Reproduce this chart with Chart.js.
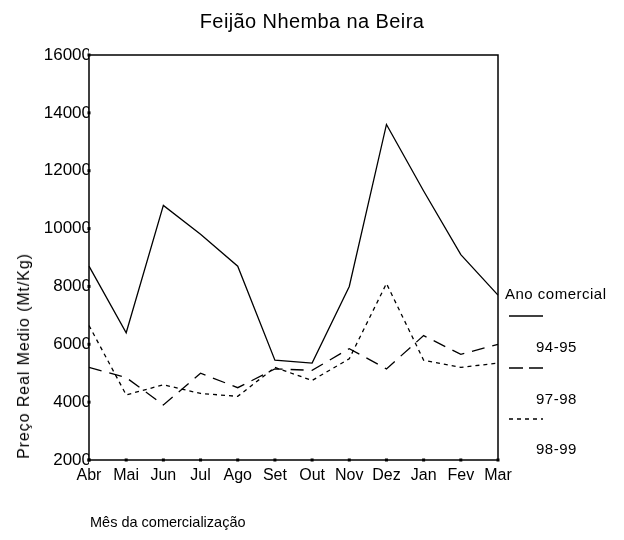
<!DOCTYPE html>
<html lang="pt">
<head>
  <meta charset="UTF-8">
  <title>Feijão Nhemba na Beira</title>
  <script src="https://cdn.jsdelivr.net/npm/chart.js"></script>
  <style>
    body {
      margin: 0;
      background: #fff;
      font-family: "Liberation Sans", Arial, sans-serif;
      color: #000;
    }
    .wrap {
      position: relative;
      width: 624px;
      height: 540px;
    }
    canvas { position: absolute; left: 0; top: 0; }
    .txt {
      position: absolute;
      white-space: nowrap;
      line-height: 1;
      font-weight: normal;
    }
    .title {
      left: 312px; top: 21px;
      font-size: 20px;
      letter-spacing: 0.4px;
      transform: translate(-50%, -50%);
    }
    .ytitle {
      left: 24px; top: 356px;
      font-size: 16px;
      letter-spacing: 0.9px;
      transform: translate(-50%, -50%) rotate(-90deg);
    }
    .xtitle {
      left: 90px; top: 515px;
      font-size: 14.5px;
    }
    .leg {
      font-size: 15px;
      letter-spacing: 0.5px;
      transform: translateY(-50%);
    }
    svg.legend { position: absolute; left: 0; top: 0; }
  </style>
</head>
<body>
  <div class="wrap">
    <canvas id="chart" width="624" height="540"></canvas>
    <div class="txt title">Feijão Nhemba na Beira</div>
    <div class="txt ytitle">Preço Real Medio (Mt/Kg)</div>
    <div class="txt xtitle">Mês da comercialização</div>
    <div class="txt leg" style="left:505px; top:293px;">Ano comercial</div>
    <div class="txt leg" style="left:536px; top:346px;">94-95</div>
    <div class="txt leg" style="left:536px; top:398px;">97-98</div>
    <div class="txt leg" style="left:536px; top:448px;">98-99</div>
    <svg class="legend" width="624" height="540">
      <line x1="509" y1="316" x2="543" y2="316" stroke="#000" stroke-width="1.3"/>
      <line x1="509" y1="368" x2="543" y2="368" stroke="#000" stroke-width="1.3" stroke-dasharray="14 6"/>
      <line x1="509" y1="419" x2="543" y2="419" stroke="#000" stroke-width="1.3" stroke-dasharray="4 4"/>
    </svg>
  </div>

  <script>
    const months = ['Abr', 'Mai', 'Jun', 'Jul', 'Ago', 'Set', 'Out', 'Nov', 'Dez', 'Jan', 'Fev', 'Mar'];
    const seriesNames = ['94-95', '97-98', '98-99'];
    const price9495 = [8700, 6400, 10800, 9800, 8700, 5450, 5350, 8000, 13600, 11300, 9100, 7700];
    const price9798 = [5200, 4850, 3900, 5000, 4500, 5150, 5100, 5850, 5150, 6300, 5650, 6000];
    const price9899 = [6650, 4250, 4600, 4300, 4200, 5200, 4750, 5500, 8100, 5450, 5200, 5350];
    const yTicks = [2000, 4000, 6000, 8000, 10000, 12000, 14000, 16000];

    // moldura do gráfico + marcas quadradas nos ticks
    const boxPlugin = {
      id: 'box',
      afterDatasetsDraw(chart) {
        const a = chart.chartArea;
        const c = chart.ctx;
        c.save();
        c.strokeStyle = '#000';
        c.lineWidth = 1.5;
        c.strokeRect(a.left, a.top, a.right - a.left, a.bottom - a.top);
        c.fillStyle = '#000';
        const xs = chart.scales.x;
        xs.ticks.forEach((t, i) => {
          const px = xs.getPixelForTick(i);
          c.fillRect(px - 1.5, a.bottom - 1.5, 3, 3);
        });
        const ys = chart.scales.y;
        ys.ticks.forEach((t, i) => {
          const py = ys.getPixelForTick(i);
          c.fillRect(a.left - 1.5, py - 1.5, 3, 3);
        });
        c.restore();
      }
    };

    const mk = (label, data, dash) => ({
      label: label,
      data: data,
      borderColor: '#000',
      borderWidth: 1.3,
      borderDash: dash,
      pointRadius: 0,
      fill: false,
      tension: 0
    });

    const ctx = document.getElementById('chart').getContext('2d');
    new Chart(ctx, {
      type: 'line',
      data: {
        labels: months,
        datasets: [
          mk(seriesNames[0], price9495, []),
          mk(seriesNames[1], price9798, [13, 8]),
          mk(seriesNames[2], price9899, [4, 4])
        ]
      },
      options: {
        responsive: false,
        animation: false,
        layout: { padding: { left: 39, right: 126, top: 55, bottom: 50 } },
        plugins: {
          legend: { display: false },
          tooltip: { enabled: false }
        },
        scales: {
          x: {
            offset: false,
            grid: { display: false, drawTicks: false },
            border: { display: false },
            ticks: {
              color: '#000',
              font: { family: '"Liberation Sans", Arial, sans-serif', size: 16 },
              padding: 6,
              maxRotation: 0,
              autoSkip: false
            },
            afterFit(scale) { scale.height = 30; }
          },
          y: {
            min: 2000,
            max: 16000,
            grid: { display: false, drawTicks: false },
            border: { display: false },
            afterBuildTicks(scale) {
              scale.ticks = yTicks.map(v => ({ value: v }));
            },
            ticks: {
              color: '#000',
              font: { family: '"Liberation Sans", Arial, sans-serif', size: 17 },
              padding: -2,
              callback: v => String(v)
            },
            afterFit(scale) { scale.width = 50; }
          }
        }
      },
      plugins: [boxPlugin]
    });
  </script>
</body>
</html>
